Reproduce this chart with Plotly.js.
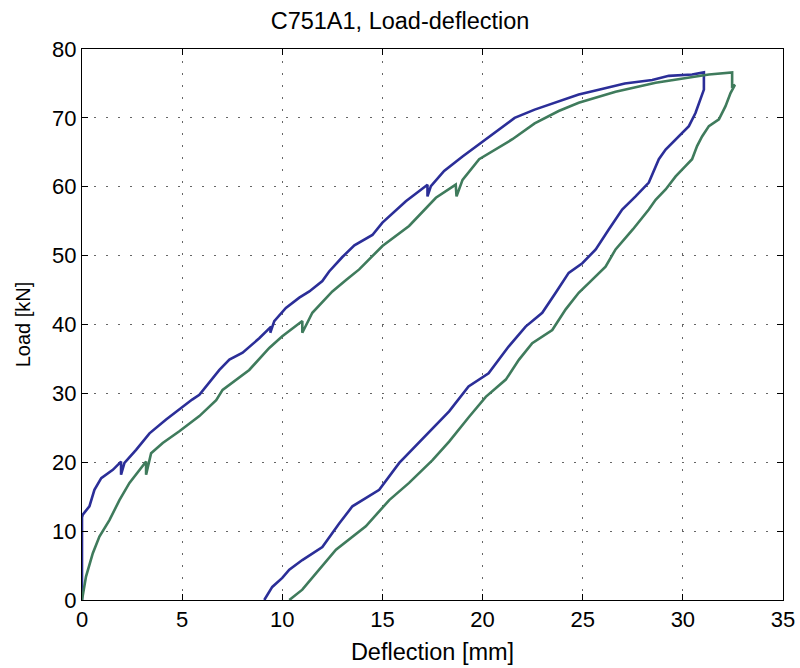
<!DOCTYPE html>
<html>
<head>
<meta charset="utf-8">
<script src="https://cdn.plot.ly/plotly-3.0.1.min.js"></script>
<style>html,body{margin:0;padding:0;background:#fff;}#chart{width:800px;height:668px;}</style>
</head>
<body>
<div id="chart"></div>
<script>
// Test 1 (blue): loading then unloading path
const blueDeflection = [0,0,0.04,0.37,0.62,0.96,1.54,1.95,1.95,2.12,2.7,3.37,4.2,5.03,5.5,5.86,6.86,7.36,8.02,8.85,9.44,9.4,9.6,10.18,10.85,11.35,12.0,12.34,13.0,13.6,14.5,15.0,16.17,17.25,17.25,17.42,18.08,19.0,20.0,21.0,21.6,22.6,23.8,24.8,25.8,27.1,28.47,29.3,30.46,31.05,31.05,30.88,30.63,30.3,29.8,29.14,28.8,28.3,27.64,26.97,26.3,25.65,24.98,24.3,23.65,22.98,22.15,21.3,20.3,19.3,18.33,17.4,16.5,15.84,14.84,13.5,12.84,12.0,11.0,10.35,10.0,9.5,9.1];
const blueLoad = [0,12.0,12.4,13.6,16.0,17.7,18.9,20.1,18.2,19.9,21.8,24.2,26.2,28.1,29.1,29.8,33.4,34.9,35.9,38.0,39.7,38.8,40.5,42.4,43.9,44.8,46.3,47.7,49.8,51.5,53.0,54.8,57.9,60.3,58.6,60.1,62.3,64.4,66.6,68.8,70.0,71.2,72.4,73.4,74.1,75.0,75.5,76.1,76.3,76.6,74.1,72.7,70.7,68.8,67.3,65.4,64.0,60.6,58.6,56.7,53.8,50.9,48.9,47.5,44.6,41.7,39.7,36.8,32.9,31.0,27.4,24.6,21.8,19.9,16.0,13.6,11.1,7.7,5.8,4.4,3.2,1.9,0];

// Test 2 (green): loading then unloading path
const greenDeflection = [0,0.2,0.54,0.87,1.37,1.87,2.37,3.2,3.2,3.45,4.03,4.86,5.86,6.7,7.02,8.35,9.35,10.0,11.0,11.0,11.5,12.5,13.2,13.84,15.0,16.33,17.67,18.66,18.7,19.0,19.83,20.66,21.49,22.6,23.8,24.8,26.64,28.64,30.13,31.3,32.46,32.46,32.6,32.38,32.13,31.8,31.3,30.96,30.71,30.46,30.13,29.64,29.14,28.64,28.3,27.5,26.64,26.14,25.3,24.8,24.15,23.48,22.48,21.82,21.16,20.16,19.33,18.33,17.5,16.33,15.34,14.17,12.68,11.68,11.0,10.35];
const greenLoad = [0,3.4,6.8,9.2,11.6,14.5,17.0,20.1,18.2,21.3,22.8,24.5,26.7,29.0,30.5,33.4,36.6,38.3,40.5,38.8,41.7,44.8,46.5,48.0,51.4,54.3,58.4,60.3,58.6,61.0,64.0,65.4,66.9,69.2,71.0,72.2,73.8,75.1,75.8,76.3,76.6,74.6,74.8,73.6,71.7,69.8,68.8,67.3,65.9,64.0,63.0,61.5,59.6,58.1,56.7,53.8,50.9,48.4,46.0,44.6,42.2,39.2,37.3,34.9,32.0,29.5,26.6,23.0,20.3,17.0,14.5,10.7,7.3,3.9,1.5,0];

const xTicks = [0,5,10,15,20,25,30,35];
const yTicks = [0,10,20,30,40,50,60,70,80];

const FONT = "Liberation Sans, Arial, Helvetica, sans-serif";

const traces = [
  {x: blueDeflection, y: blueLoad, mode: 'lines', line: {color: '#2b2e98', width: 2.6}, hoverinfo: 'skip'},
  {x: greenDeflection, y: greenLoad, mode: 'lines', line: {color: '#3f7b5c', width: 2.6}, hoverinfo: 'skip'}
];

const axisCommon = {
  showline: true, linecolor: '#000', linewidth: 1, mirror: 'ticks',
  ticks: 'inside', ticklen: 6, tickcolor: '#000', tickwidth: 1,
  showgrid: true, gridcolor: '#666', griddash: '2px,10px', gridwidth: 1,
  zeroline: false, tickfont: {family: FONT, size: 22, color: '#000'}
};

const layout = {
  width: 800, height: 668,
  paper_bgcolor: '#fff', plot_bgcolor: '#fff',
  showlegend: false,
  margin: {l: 82, r: 17, t: 49, b: 68},
  title: {text: 'C751A1, Load-deflection', font: {family: FONT, size: 23.5, color: '#000'}, x: 0.5, xanchor: 'center', y: 1 - 20.5/668, yanchor: 'middle'},
  xaxis: Object.assign({}, axisCommon, {range: [0, 35], tickvals: xTicks, ticktext: xTicks.map(String),
    title: {text: 'Deflection [mm]', font: {family: FONT, size: 23.5, color: '#000'}, standoff: 12}}),
  yaxis: Object.assign({}, axisCommon, {range: [0, 80], tickvals: yTicks, ticktext: yTicks.map(String),
    title: {text: 'Load [kN]', font: {family: FONT, size: 20, color: '#000'}, standoff: 16}})
};

Plotly.newPlot('chart', traces, layout, {displayModeBar: false, staticPlot: true});
</script>
</body>
</html>
